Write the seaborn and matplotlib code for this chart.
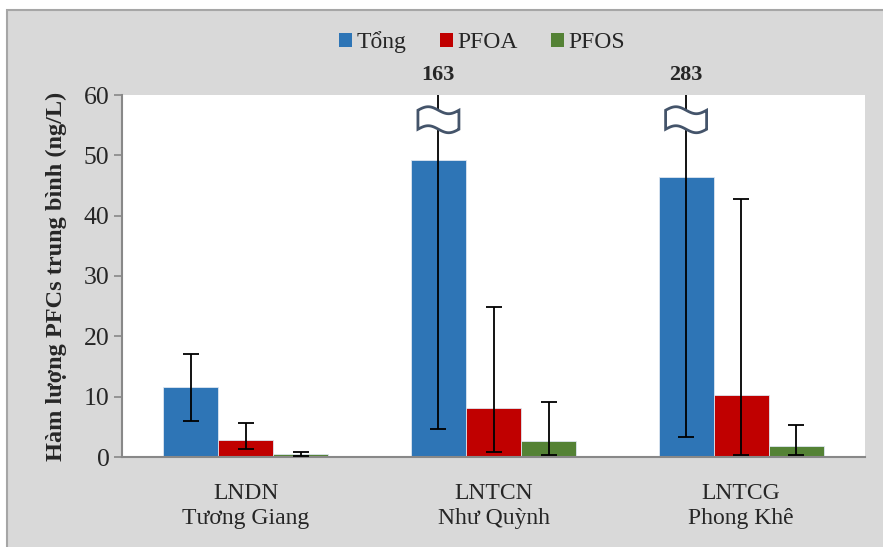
import numpy as np
import pandas as pd
import seaborn as sns
import matplotlib.pyplot as plt
import matplotlib.patches as mpatches
import matplotlib.transforms as mtransforms

# du lieu doc tu hinh
sites = ["LNDN\nTương Giang", "LNTCN\nNhư Quỳnh", "LNTCG\nPhong Khê"]
series = ["Tổng", "PFOA", "PFOS"]
tong = [11.6, 49.2, 46.4]
tong_low = [6.0, 4.7, 3.3]
tong_high = [17.0, 163, 283]
pfoa = [2.9, 8.2, 10.3]
pfoa_low = [1.3, 0.9, 0.4]
pfoa_high = [5.6, 24.9, 42.8]
pfos = [0.45, 2.7, 1.9]
pfos_low = [0.1, 0.4, 0.3]
pfos_high = [0.75, 9.1, 5.3]
colors = ["#2e75b6", "#c00000", "#548235"]

sns.set_theme(style="white")
plt.rcParams["font.family"] = ["Liberation Serif", "DejaVu Serif"]

df = pd.DataFrame({
    "site": sites * 3,
    "series": [s for s in series for _ in sites],
    "value": tong + pfoa + pfos,
})
lows = [tong_low, pfoa_low, pfos_low]
highs = [tong_high, pfoa_high, pfos_high]
means = [tong, pfoa, pfos]

fig = plt.figure(figsize=(8.83, 5.47), dpi=100, facecolor="white")
fig.patches.append(mpatches.Rectangle((7 / 883, -0.05), 1.0, 0.05 + (547 - 10) / 547,
                                      transform=fig.transFigure, facecolor="#d9d9d9",
                                      edgecolor="#a6a6a6", linewidth=1.5, zorder=-1))
ax = fig.add_axes([122 / 883, 1 - 457 / 547, (865 - 122) / 883, (457 - 95) / 547])
ax.set_facecolor("white")

sns.barplot(data=df, x="site", y="value", hue="series", hue_order=series,
            palette=colors, saturation=1, width=0.667, gap=0, errorbar=None, ax=ax,
            edgecolor="#dde6f0", linewidth=0.6)

bar_conts = list(ax.containers)
centers = []
for i, cont in enumerate(bar_conts):
    xs = np.array([b.get_x() + b.get_width() / 2 for b in cont])
    centers.append(xs)
    m = np.array(means[i])
    err = [m - np.array(lows[i]), np.array(highs[i]) - m]
    ax.errorbar(xs, m, yerr=err, fmt="none", ecolor="black", elinewidth=1.3,
                capsize=6, capthick=1.3, zorder=4)

# ky hieu ngat truc
t = np.linspace(0, 1, 40)
w, band, amp = 0.41, 0.19, 0.035
top = np.column_stack([(t - 0.5) * w, band / 2 + amp * np.sin(2 * np.pi * t)])
bot = np.column_stack([(t[::-1] - 0.5) * w, -band / 2 + amp * np.sin(2 * np.pi * t[::-1])])
shape = np.vstack([top, bot])
trans_txt = mtransforms.blended_transform_factory(ax.transData, ax.transAxes)
for j in [1, 2]:
    xc = centers[0][j]
    tr = fig.dpi_scale_trans + mtransforms.ScaledTranslation(xc, 55.9, ax.transData)
    ax.add_patch(mpatches.Polygon(shape, closed=True, transform=tr, facecolor="white",
                                  edgecolor="#44546a", linewidth=2.0, zorder=6, clip_on=False))
    ax.text(xc, 1.055, f"{tong_high[j]:g}", transform=trans_txt, ha="center", va="center",
            fontsize=16, fontweight="bold")

ax.set_ylim(0, 60)
ax.set_xlim(-0.5, 2.5)
ax.set_yticks(range(0, 61, 10))
ax.set_xlabel("")
ax.set_ylabel("Hàm lượng PFCs trung bình (ng/L)", fontsize=17.5, fontweight="bold", labelpad=12)
ax.set_xticks([0, 1, 2])
ax.set_xticklabels(sites, fontsize=17, linespacing=1.2)
ax.set_xticks([-0.5, 0.5, 1.5, 2.5], minor=True)
ax.tick_params(axis="x", which="major", length=0, pad=19)
ax.tick_params(axis="x", which="minor", length=8, width=1.2, color="#888888", direction="out")
ax.tick_params(axis="y", labelsize=18.5, length=6, width=1.2, color="#888888", direction="out",
               left=True, pad=3)
for s in ["top", "right"]:
    ax.spines[s].set_visible(False)
for s in ["left", "bottom"]:
    ax.spines[s].set_color("#888888")
    ax.spines[s].set_linewidth(1.5)

ax.get_legend().remove()
handles = [mpatches.Patch(facecolor=c, edgecolor="none") for c in colors]
fig.legend(handles, series, loc="center", bbox_to_anchor=(482 / 883, 1 - 42 / 547),
           ncol=3, frameon=False, fontsize=17, handlelength=0.55, handleheight=0.55,
           handletextpad=0.2, columnspacing=1.4)

fig.savefig("out.png", dpi=100, facecolor=fig.get_facecolor())
